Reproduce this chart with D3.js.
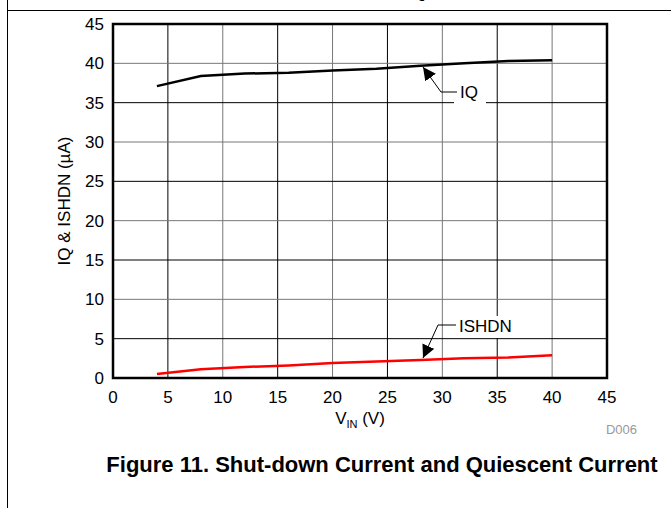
<!DOCTYPE html>
<html><head><meta charset="utf-8">
<script src="https://cdn.jsdelivr.net/npm/d3@7"></script>
<style>body{margin:0;background:#fff}</style>
</head><body><div id="chart"></div>
<script>
const vin = [4, 8, 12, 16, 20, 24, 28, 32, 36, 40];
const iq = [37.1, 38.4, 38.7, 38.8, 39.1, 39.3, 39.7, 40.0, 40.3, 40.4];
const ishdn = [0.5, 1.1, 1.4, 1.6, 1.9, 2.1, 2.3, 2.5, 2.6, 2.9];
const xTicks = d3.range(0, 46, 5);
const yTicks = d3.range(0, 46, 5);

const W = 671, H = 508;
const font = "Arial, 'Liberation Sans', sans-serif";
const svg = d3.select("#chart").append("svg").attr("width", W).attr("height", H);

// outer frame
svg.append("line").attr("x1", 7.5).attr("x2", 7.5).attr("y1", 0).attr("y2", H).attr("stroke", "#000");
svg.append("line").attr("x1", 7).attr("x2", W).attr("y1", 10.5).attr("y2", 10.5).attr("stroke", "#000");
svg.append("text").attr("x", 384).attr("y", -3).attr("text-anchor", "middle")
  .attr("font-family", font).attr("font-weight", "bold").attr("font-size", 20)
  .text("Shut-down Current and Quiescent Current");

const x = d3.scaleLinear().domain([0, 45]).range([113, 607]);
const y = d3.scaleLinear().domain([0, 45]).range([378, 24]);

// grid
svg.append("g").selectAll("line").data(xTicks.slice(1, -1)).join("line")
  .attr("x1", d => x(d)).attr("x2", d => x(d)).attr("y1", y(45)).attr("y2", y(0))
  .attr("stroke", (d, i) => i % 2 ? "#777" : "#000").attr("stroke-width", 1);
svg.append("g").selectAll("line").data(yTicks.slice(1, -1)).join("line")
  .attr("x1", x(0)).attr("x2", x(45)).attr("y1", d => y(d)).attr("y2", d => y(d))
  .attr("stroke", (d, i) => i % 2 ? "#777" : "#000").attr("stroke-width", 1);

// axes labels
svg.append("g").selectAll("text").data(xTicks).join("text")
  .attr("x", d => x(d)).attr("y", 403).attr("text-anchor", "middle")
  .attr("font-family", font).attr("font-size", 17).text(d => d);
svg.append("g").selectAll("text").data(yTicks).join("text")
  .attr("x", 104).attr("y", d => y(d) + 6).attr("text-anchor", "end")
  .attr("font-family", font).attr("font-size", 17).text(d => d);

const xl = svg.append("text").attr("x", x(22.5)).attr("y", 424).attr("text-anchor", "middle")
  .attr("font-family", font).attr("font-size", 17);
xl.append("tspan").text("V");
xl.append("tspan").attr("font-size", 11).attr("dy", 4).text("IN");
xl.append("tspan").attr("dy", -4).text(" (V)");

svg.append("text").attr("transform", `translate(70,${y(22.5)}) rotate(-90)`)
  .attr("text-anchor", "middle").attr("font-family", font).attr("font-size", 17)
  .text("IQ & ISHDN (µA)");

svg.append("text").attr("x", 637).attr("y", 434).attr("text-anchor", "end")
  .attr("font-family", font).attr("font-size", 13).attr("fill", "#999").text("D006");

// lines
const line = d3.line().x(d => x(d[0])).y(d => y(d[1]));
svg.append("path").datum(d3.zip(vin, iq)).attr("d", line)
  .attr("fill", "none").attr("stroke", "#000").attr("stroke-width", 2.5);
svg.append("path").datum(d3.zip(vin, ishdn)).attr("d", line)
  .attr("fill", "none").attr("stroke", "#f00").attr("stroke-width", 2.5);

// annotations
svg.append("defs").append("marker").attr("id", "ah").attr("viewBox", "0 0 10 10")
  .attr("refX", 10).attr("refY", 5).attr("markerWidth", 13).attr("markerHeight", 13)
  .attr("markerUnits", "userSpaceOnUse").attr("orient", "auto")
  .append("path").attr("d", "M0,0L10,5L0,10Z").attr("fill", "#000");

function callout(label, tx, ty, kx, ky, ax, ay, bw) {
  svg.append("rect").attr("x", tx - 6).attr("y", ty - 16).attr("width", bw).attr("height", 22).attr("fill", "#fff");
  svg.append("text").attr("x", tx).attr("y", ty).attr("font-family", font).attr("font-size", 17).text(label);
  svg.append("polyline").attr("points", `${tx - 3},${ky} ${kx},${ky} ${ax},${ay}`)
    .attr("fill", "none").attr("stroke", "#000").attr("stroke-width", 1).attr("marker-end", "url(#ah)");
}
callout("IQ", 460, 98, 441, 92, 423, 67, 32);
callout("ISHDN", 459, 332, 438, 325, 423, 358, 76);

// plot frame
svg.append("rect").attr("x", x(0)).attr("y", y(45)).attr("width", x(45) - x(0)).attr("height", y(0) - y(45))
  .attr("fill", "none").attr("stroke", "#000").attr("stroke-width", 2.5);

svg.append("text").attr("x", 382).attr("y", 472).attr("text-anchor", "middle")
  .attr("font-family", font).attr("font-weight", "bold").attr("font-size", 22)
  .text("Figure 11. Shut-down Current and Quiescent Current");
</script></body></html>
